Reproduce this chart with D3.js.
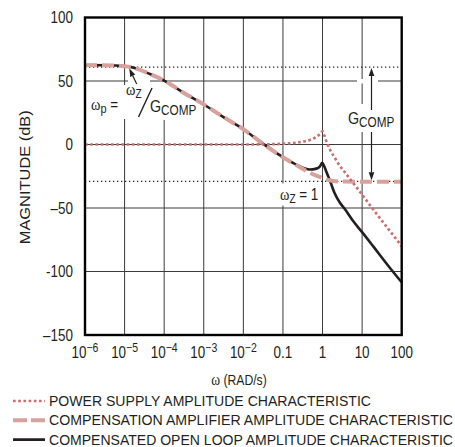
<!DOCTYPE html>
<html>
<head>
<meta charset="utf-8">
<script src="https://cdn.jsdelivr.net/npm/d3@7"></script>
<style>
  body { margin: 0; background: #fff; }
  text { font-family: "Liberation Sans", Arimo, sans-serif; fill: #231f20; }
  .greek { font-family: "Liberation Serif", "DejaVu Serif", serif; }
</style>
</head>
<body>
<div id="chart"></div>
<script>
// axis ticks
const xTicks = [1e-6, 1e-5, 1e-4, 1e-3, 1e-2, 0.1, 1, 10, 100];
const xTickLabels = [["10", "−6"], ["10", "−5"], ["10", "−4"], ["10", "−3"], ["10", "−2"], ["0.1"], ["1"], ["10"], ["100"]];
const yTicks = [100, 50, 0, -50, -100, -150];
const yTickLabels = ["100", "50", "0", "–50", "-100", "–150"];

// power supply amplitude characteristic (dotted)
const psFreq = [1e-6, 1e-2, 0.05, 0.1, 0.2, 0.36, 0.5, 0.64, 0.8, 0.92, 1.0, 1.1, 1.2, 1.6, 2.0, 2.7, 3.7, 4.9, 8, 10, 20, 50, 100];
const psMag  = [0, 0, 0.2, 0.6, 1.3, 2.6, 3.8, 5.3, 7.4, 9.2, 10.5, 7.5, 4, -5, -10, -16.5, -22, -27, -35.5, -39.5, -52, -68, -80];

// compensation amplifier amplitude characteristic (dashed)
const compFreq = [1e-6, 3e-6, 1e-5, 2e-5, 4e-5, 1e-4, 3e-4, 1e-3, 3e-3, 1e-2, 3e-2, 0.1, 0.2, 0.4, 0.7, 1, 1.5, 3, 10, 100];
const compMag  = [62.5, 62.4, 61.7, 59.8, 56, 50.3, 41, 31.5, 22, 12, 1, -10, -15.5, -21, -24.5, -26.5, -28.2, -29.2, -29.4, -29.4];

// compensated open loop amplitude characteristic (solid)
const loopFreq = [1e-6, 3e-6, 1e-5, 2e-5, 4e-5, 1e-4, 3e-4, 1e-3, 3e-3, 1e-2, 3e-2, 0.1, 0.24, 0.47, 0.7, 0.85, 0.98, 1.1, 1.25, 1.6, 2.0, 2.7, 3.7, 6, 10, 20, 50, 100];
const loopMag  = [62.5, 62.4, 61.7, 59.8, 56, 50.3, 41, 31.5, 22, 12, 1, -10, -16.5, -19.7, -19, -17.5, -14.5, -17, -21.5, -30, -38, -45.5, -51, -60.5, -69, -81, -97, -108.5];

// G_COMP reference levels (dotted black)
const refLevels = [61, -29];

const legendLabels = [
  "POWER SUPPLY AMPLITUDE CHARACTERISTIC",
  "COMPENSATION AMPLIFIER AMPLITUDE CHARACTERISTIC",
  "COMPENSATED OPEN LOOP AMPLITUDE CHARACTERISTIC"
];

const width = 455;
const height = 447;
const plot = { left: 85, right: 401.7, top: 17.5, bottom: 335 };
const squeeze = 0.84;   // the original uses a condensed face

const pink = "#d9a19c";
const rose = "#c8726f";
const ink = "#231f20";

const x = d3.scaleLog().domain([1e-6, 100]).range([plot.left, plot.right]);
const y = d3.scaleLinear().domain([-150, 100]).range([plot.bottom, plot.top]);

const svg = d3.select("#chart")
  .append("svg")
    .attr("width", width)
    .attr("height", height);

// text placed at (px, py) and squeezed horizontally
function label(px, py, size, anchor) {
  return svg.append("g")
      .attr("transform", `translate(${px},${py}) scale(${squeeze},1)`)
    .append("text")
      .attr("font-size", size)
      .attr("text-anchor", anchor || "start");
}

// grid
const grid = svg.append("g").attr("class", "grid")
  .attr("stroke", "#3a3a3a").attr("stroke-width", 1);

grid.selectAll(".vgrid")
    .data(xTicks.slice(1, -1)).enter()
  .append("line")
    .attr("x1", (d) => x(d)).attr("x2", (d) => x(d))
    .attr("y1", plot.top).attr("y2", plot.bottom);

grid.selectAll(".hgrid")
    .data(yTicks.slice(1, -1)).enter()
  .append("line")
    .attr("x1", plot.left).attr("x2", plot.right)
    .attr("y1", (d) => y(d)).attr("y2", (d) => y(d));

// white knock-outs behind the labels
const knock = svg.append("g").attr("fill", "#fff");
[[88, 85, 62, 34], [128, 78.5, 22, 6], [150, 82, 43, 38], [277, 183.5, 44, 22], [345, 104, 53, 28], [357, 79, 21, 4.5]]
  .forEach((r) => knock.append("rect")
    .attr("x", r[0]).attr("y", r[1]).attr("width", r[2]).attr("height", r[3]));

// dotted reference levels
svg.append("g")
  .selectAll("line")
    .data(refLevels).enter()
  .append("line")
    .attr("x1", plot.left).attr("x2", plot.right)
    .attr("y1", (d) => y(d)).attr("y2", (d) => y(d))
    .attr("stroke", ink)
    .attr("stroke-width", 1.3)
    .attr("stroke-dasharray", "1.3,2.7");

// curves
const line = d3.line()
  .x((d) => x(d[0]))
  .y((d) => y(d[1]))
  .curve(d3.curveMonotoneX);

const series = [
  { freq: loopFreq, mag: loopMag, stroke: ink, width: 2.6, dash: null, key: "14,0" },
  { freq: compFreq, mag: compMag, stroke: pink, width: 4, dash: "12,5", key: "14,4" },
  { freq: psFreq, mag: psMag, stroke: rose, width: 2.7, dash: "2.7,2.5", key: "2.7,2.5" }
];

svg.append("g")
  .selectAll("path")
    .data(series).enter()
  .append("path")
    .attr("d", (s) => line(s.freq.map((f, i) => [f, s.mag[i]])))
    .attr("fill", "none")
    .attr("stroke", (s) => s.stroke)
    .attr("stroke-width", (s) => s.width)
    .attr("stroke-dasharray", (s) => s.dash);

// frame
svg.append("rect")
  .attr("x", plot.left).attr("y", plot.top)
  .attr("width", plot.right - plot.left)
  .attr("height", plot.bottom - plot.top)
  .attr("fill", "none")
  .attr("stroke", "#000")
  .attr("stroke-width", 2.4);

// y tick labels
svg.append("g")
  .selectAll("g")
    .data(yTicks).enter()
  .append("g")
    .attr("transform", (d) => `translate(73,${y(d)}) scale(${squeeze},1)`)
  .append("text")
    .attr("dy", "0.36em")
    .attr("text-anchor", "end")
    .attr("font-size", 16)
    .text((d, i) => yTickLabels[i]);

// x tick labels
const xl = svg.append("g")
  .selectAll("g")
    .data(xTicks).enter()
  .append("g")
    .attr("transform", (d) => `translate(${x(d)},358) scale(${squeeze},1)`)
  .append("text")
    .attr("text-anchor", "middle")
    .attr("font-size", 16);

xl.append("tspan").text((d, i) => xTickLabels[i][0]);
xl.filter((d, i) => xTickLabels[i].length > 1)
  .append("tspan")
    .attr("dy", -6.5)
    .attr("font-size", 12.5)
    .text((d) => xTickLabels[xTicks.indexOf(d)][1]);

// axis titles
svg.append("text")
  .attr("transform", `translate(30, ${(plot.top + plot.bottom) / 2 + 1}) rotate(-90)`)
  .attr("text-anchor", "middle")
  .attr("font-size", 14)
  .attr("textLength", 134)
  .attr("lengthAdjust", "spacingAndGlyphs")
  .text("MAGNITUDE (dB)");

const xt = label(239, 385, 14.5, "middle");
xt.append("tspan").attr("class", "greek").attr("font-size", 16).text("ω");
xt.append("tspan").text(" (RAD/s)");

// annotation: omega_p = omega_z / G_COMP
const a1 = label(91, 110, 16);
a1.append("tspan").attr("class", "greek").attr("font-size", 17).text("ω");
a1.append("tspan").attr("dy", 3).attr("font-size", 13).text("p");
a1.append("tspan").attr("dy", -3).text(" =");

const a2 = label(126, 95, 16);
a2.append("tspan").attr("class", "greek").attr("font-size", 17).text("ω");
a2.append("tspan").attr("dy", 3).attr("font-size", 12).text("Z");

svg.append("line")
  .attr("x1", 138.5).attr("y1", 117).attr("x2", 152).attr("y2", 88)
  .attr("stroke", ink).attr("stroke-width", 1.4);

const a3 = label(150, 112, 17);
a3.append("tspan").text("G");
a3.append("tspan").attr("dy", 3).attr("font-size", 14).text("COMP");

// annotation: omega_z = 1
const a4 = label(280, 200, 16);
a4.append("tspan").attr("class", "greek").attr("font-size", 17).text("ω");
a4.append("tspan").attr("dy", 3).attr("font-size", 12).text("Z");
a4.append("tspan").attr("dy", -3).text(" = 1");

// annotation: G_COMP
const a5 = label(348, 123.5, 17);
a5.append("tspan").text("G");
a5.append("tspan").attr("dy", 3).attr("font-size", 14).text("COMP");

// arrows
function arrow(x1, y1, x2, y2) {
  const ang = Math.atan2(y2 - y1, x2 - x1);
  const len = 8, half = 2.8;
  const bx = x2 - len * Math.cos(ang), by = y2 - len * Math.sin(ang);
  svg.append("line")
    .attr("x1", x1).attr("y1", y1).attr("x2", bx).attr("y2", by)
    .attr("stroke", ink).attr("stroke-width", 1.2);
  svg.append("path")
    .attr("d", `M${x2},${y2}L${bx - half * Math.sin(ang)},${by + half * Math.cos(ang)}L${bx + half * Math.sin(ang)},${by - half * Math.cos(ang)}Z`)
    .attr("fill", ink);
}
arrow(136.7, 84, 129.3, 68.5);
arrow(371.5, 110, 371.5, y(refLevels[0]) + 1);
arrow(371.5, 132, 371.5, y(refLevels[1]) - 1);

// legend
const legend = svg.append("g").attr("class", "legend");
const rows = legend.selectAll("g")
    .data(series.slice().reverse()).enter()
  .append("g")
    .attr("transform", (d, i) => `translate(0, ${406 + i * 19.3})`);

rows.append("line")
  .attr("x1", 13).attr("x2", 45)
  .attr("y1", -5).attr("y2", -5)
  .attr("stroke", (d) => d.stroke)
  .attr("stroke-width", (d) => d.width)
  .attr("stroke-dasharray", (d) => d.key);

rows.append("text")
  .attr("x", 49)
  .attr("font-size", 14)
  .attr("textLength", (d, i) => [322, 404, 404][i])
  .attr("lengthAdjust", "spacingAndGlyphs")
  .text((d, i) => legendLabels[i]);
</script>
</body>
</html>
